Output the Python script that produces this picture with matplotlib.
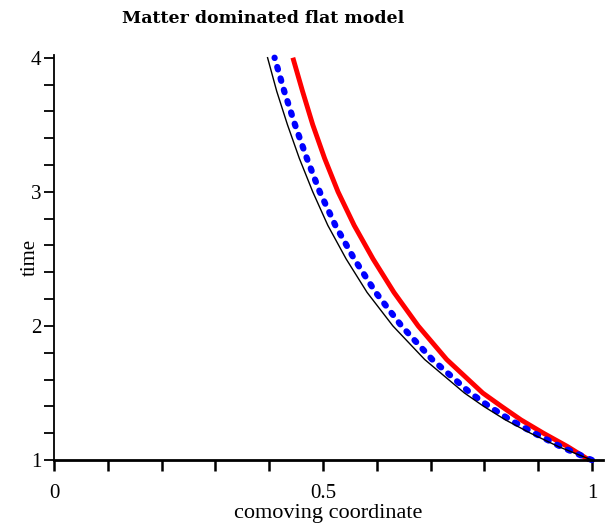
import numpy as np
import matplotlib.pyplot as plt
from matplotlib.ticker import MultipleLocator

# time values and comoving coordinate
time = [1.0, 1.1, 1.2, 1.3, 1.4, 1.5, 1.75, 2.0, 2.25, 2.5, 2.75, 3.0, 3.25, 3.5, 3.75, 4.0]
x_black = [1.0, 0.938, 0.886, 0.839, 0.799, 0.763, 0.689, 0.630, 0.582, 0.543, 0.509, 0.481, 0.456, 0.434, 0.414, 0.397]
x_blue = [1.0, 0.942, 0.893, 0.848, 0.809, 0.774, 0.703, 0.646, 0.598, 0.558, 0.523, 0.494, 0.470, 0.448, 0.428, 0.410]
x_red = [0.995, 0.955, 0.910, 0.868, 0.832, 0.797, 0.730, 0.677, 0.632, 0.593, 0.558, 0.528, 0.503, 0.481, 0.462, 0.444]

x_major = [0, 0.5, 1]
x_labels = ["0", "0.5", "1"]
y_major = [1, 2, 3, 4]
y_labels = ["1", "2", "3", "4"]

plt.rcParams.update({"font.family": "Liberation Serif"})

fig = plt.figure(figsize=(6.11, 5.24), dpi=100)
ax = fig.add_axes([0.0884, 0.122, 0.898, 0.773])

ax.plot(x_red, time, color="#ff0000", lw=3.5, solid_capstyle="butt", clip_on=False)
ax.plot(x_blue, time, color="#0000ff", lw=4.5, linestyle=(0, (0.4, 1.5)),
        dash_capstyle="round", clip_on=False)
ax.plot(x_black, time, color="black", lw=1, clip_on=False)

ax.set_xlim(0, 1.02)
ax.set_ylim(1, 4.02)

for s in ["top", "right"]:
    ax.spines[s].set_visible(False)
ax.spines["bottom"].set_linewidth(2)
ax.spines["left"].set_linewidth(1.3)

ax.set_xticks(x_major)
ax.set_xticklabels(x_labels)
ax.set_yticks(y_major)
ax.set_yticklabels(y_labels)
ax.xaxis.set_minor_locator(MultipleLocator(0.1))
ax.yaxis.set_minor_locator(MultipleLocator(0.2))
ax.tick_params(axis="x", which="both", direction="out", length=8, width=1.8,
               labelsize=15, pad=9)
ax.tick_params(axis="y", which="both", direction="out", length=7, width=1.3,
               labelsize=15, pad=2)

ax.set_xlabel("comoving coordinate", fontsize=16, labelpad=1)
ax.set_ylabel("time", fontsize=15, labelpad=-6)

fig.text(0.43, 0.965, "Matter dominated flat model", family="DejaVu Serif",
         fontweight="bold", fontsize=12.5, ha="center", va="center")

fig.savefig("out.png", dpi=100)
